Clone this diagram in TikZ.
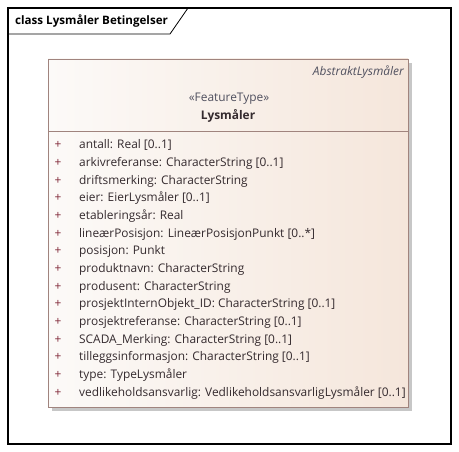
\documentclass[tikz,border=0pt]{standalone}
\usepackage{fontspec}
\setmainfont{Open Sans}
\usetikzlibrary{positioning,shadows}
\definecolor{umlborder}{RGB}{160,132,126}
\definecolor{umlleft}{RGB}{252,250,248}
\definecolor{umlright}{RGB}{245,230,219}
\definecolor{umltext}{RGB}{52,42,46}
\definecolor{umlplus}{RGB}{128,40,56}
\definecolor{umlstereo}{RGB}{80,80,95}
\tikzset{every picture/.style={/utils/exec={\fontsize{11.9}{13}\selectfont}}}

\begin{document}
\begin{tikzpicture}[x=1pt, y=-1pt,
  attr/.style={anchor=base west, inner sep=0, text=umltext},
  vis/.style={anchor=base, inner sep=0, text=umlplus}]
  \useasboundingbox (0,0) rectangle (459,452);
  \draw[line width=1.2pt] (8,8) rectangle (451,444);
  \node[anchor=base west, inner sep=0, font=\fontsize{11.6}{13}\selectfont\bfseries] (title) at (15,25) {class Lysmåler Betingelser};
  \draw[line width=0.8pt] (8,34) -- (170,34) -- (188,8);

  \node[draw=umlborder, left color=umlleft, right color=umlright, minimum width=360pt, minimum height=348pt,
    drop shadow={shadow xshift=4pt, shadow yshift=-4pt, fill=black!22, opacity=1}] (cls) at (228,233) {};
  \draw[umlborder] (48,131) -- (408,131);
  \node[anchor=base east, inner sep=0, text=umlstereo, font=\itshape] (parent) at (404,76) {AbstraktLysmåler};
  \node[anchor=base, inner sep=0, text=umlstereo] (stereo) at (229,102) {«FeatureType»};
  \node[anchor=base, inner sep=0, text=umltext, font=\bfseries] (name) at (228,120) {Lysmåler};

  \foreach \attrtext [count=\i from 0] in {
    {antall: Real [0..1]},
    {arkivreferanse: CharacterString [0..1]},
    {driftsmerking: CharacterString},
    {eier: EierLysmåler [0..1]},
    {etableringsår: Real},
    {lineærPosisjon: LineærPosisjonPunkt [0..*]},
    {posisjon: Punkt},
    {produktnavn: CharacterString},
    {produsent: CharacterString},
    {prosjektInternObjekt\_ID: CharacterString [0..1]},
    {prosjektreferanse: CharacterString [0..1]},
    {SCADA\_Merking: CharacterString [0..1]},
    {tilleggsinformasjon: CharacterString [0..1]},
    {type: TypeLysmåler},
    {vedlikeholdsansvarlig: VedlikeholdsansvarligLysmåler [0..1]}} {
    \node[vis] (plus\i) at (58,149+17.65*\i) {+};
    \node[attr] (attr\i) at (79,149+17.65*\i) {\attrtext};
  }
\end{tikzpicture}
\end{document}
